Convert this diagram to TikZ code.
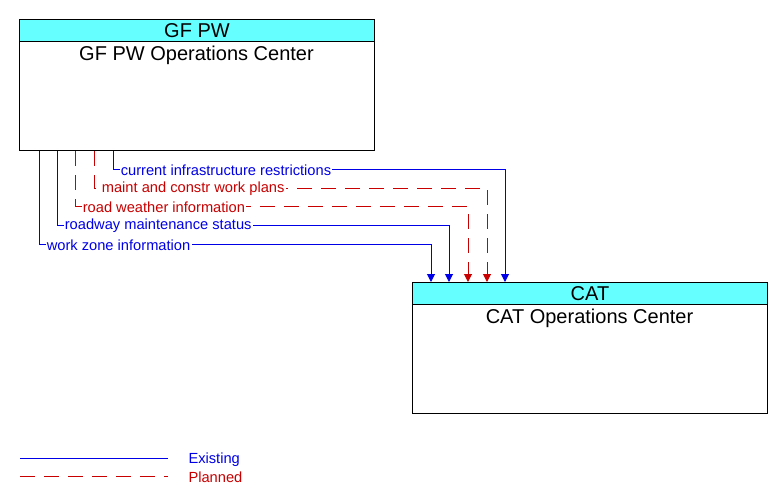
\documentclass[tikz,border=0pt]{standalone}
\usepackage{fontspec}
\setmainfont{Liberation Sans}
\usetikzlibrary{arrows.meta,positioning}
\definecolor{existingclr}{RGB}{0,0,230}
\definecolor{plannedclr}{RGB}{200,0,0}
\definecolor{headclr}{RGB}{102,255,255}

\begin{document}
\begin{tikzpicture}[x=0.75pt, y=-0.75pt,
    every node/.style={font=\fontsize{11}{13}\selectfont},
    box/.style={draw, line width=0.75pt, minimum width=266.25pt, minimum height=98.25pt, inner sep=0pt},
    head/.style={draw, fill=headclr, line width=0.75pt, minimum width=266.25pt, minimum height=16.5pt, inner sep=0pt, font=\fontsize{15}{17}\selectfont},
    title/.style={inner sep=0pt, font=\fontsize{15}{17}\selectfont},
    existing/.style={draw=existingclr, line width=0.75pt},
    planned/.style={draw=plannedclr, line width=0.75pt, dash pattern=on 11.25pt off 6.75pt},
    flow tip/.style={-{Triangle[length=6pt, width=6pt]}},
    lbl/.style={fill=white, inner xsep=1pt, inner ysep=0.5pt, anchor=west, xshift=4.5pt, yshift=-0.75pt}]
\useasboundingbox (0,0) rectangle (783,504);

\node[box, anchor=north west] (gfpw) at (19,19) {};
\node[head, anchor=north] (gfpwhead) at (gfpw.north) {GF PW};
\node[title] (gfpwname) at (196.5,55) {GF PW Operations Center};

\node[box, anchor=north west] (cat) at (412,282) {};
\node[head, anchor=north] (cathead) at (cat.north) {CAT};
\node[title] (catname) at (589.5,318) {CAT Operations Center};

\coordinate (s1) at (113,0); \coordinate (e1) at (505,169);
\coordinate (s2) at (94,0);  \coordinate (e2) at (487,188);
\coordinate (s3) at (75,0);  \coordinate (e3) at (468,206);
\coordinate (s4) at (57,0);  \coordinate (e4) at (449,225);
\coordinate (s5) at (39,0);  \coordinate (e5) at (431,244);

\draw[existing, flow tip] (gfpw.south -| s1) |- node[lbl, pos=0.5, text=existingclr] {current infrastructure restrictions} (e1) -- (cat.north -| e1);
\draw[planned, flow tip] (gfpw.south -| s2) |- node[lbl, pos=0.5, text=plannedclr] {maint and constr work plans} (e2) -- (cat.north -| e2);
\draw[planned, flow tip] (gfpw.south -| s3) |- node[lbl, pos=0.5, text=plannedclr] {road weather information} (e3) -- (cat.north -| e3);
\draw[existing, flow tip] (gfpw.south -| s4) |- node[lbl, pos=0.5, text=existingclr] {roadway maintenance status} (e4) -- (cat.north -| e4);
\draw[existing, flow tip] (gfpw.south -| s5) |- node[lbl, pos=0.5, text=existingclr] {work zone information} (e5) -- (cat.north -| e5);

\coordinate (legex) at (20,458);
\coordinate (legpl) at (20,476);
\draw[existing] (legex) -- ++(148,0) node[right=15pt, inner sep=0pt, yshift=-1.5pt, text=existingclr] (exlbl) {Existing};
\draw[planned] (legpl) -- ++(148,0) node[right=15pt, inner sep=0pt, yshift=-1pt, text=plannedclr] (pllbl) {Planned};
\end{tikzpicture}
\end{document}
